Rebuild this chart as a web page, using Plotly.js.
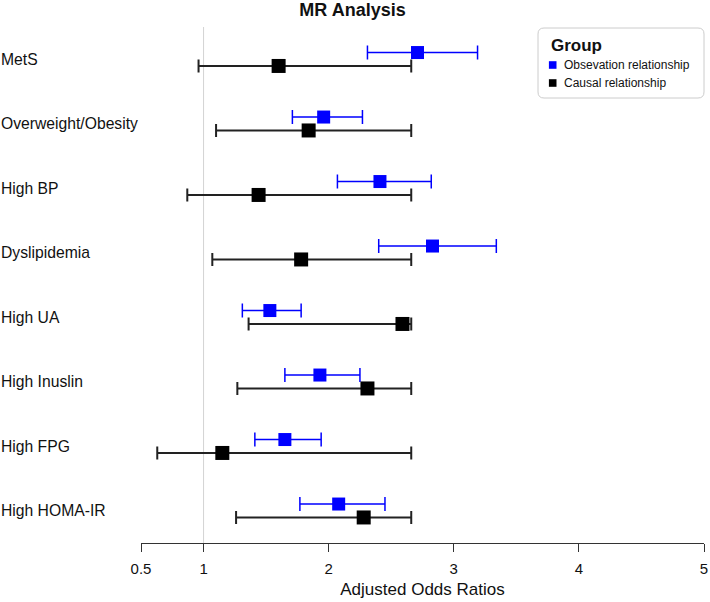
<!DOCTYPE html>
<html>
<head>
<meta charset="utf-8">
<script src="https://cdn.plot.ly/plotly-3.0.1.min.js"></script>
<style>html,body{margin:0;padding:0;background:#fff;}#chart{width:710px;height:602px;}</style>
</head>
<body>
<div id="chart"></div>
<script>
// ---- data ----
const categories = ['MetS','Overweight/Obesity','High BP','Dyslipidemia','High UA','High Inuslin','High FPG','High HOMA-IR'];
const obsOR    = [2.71, 1.96, 2.41, 2.83, 1.53, 1.93, 1.65, 2.08];
const obsLower = [2.31, 1.71, 2.07, 2.40, 1.31, 1.65, 1.41, 1.77];
const obsUpper = [3.19, 2.27, 2.82, 3.34, 1.78, 2.25, 1.94, 2.45];
const causOR    = [1.60, 1.84, 1.44, 1.78, 2.59, 2.31, 1.15, 2.28];
const causLower = [0.96, 1.10, 0.87, 1.07, 1.36, 1.27, 0.63, 1.26];
const causUpper = [2.66, 2.66, 2.66, 2.66, 2.66, 2.66, 2.66, 2.66];
const tickVals = [0.5, 1, 2, 3, 4, 5];
const tickText = ['0.5', '1', '2', '3', '4', '5'];
const seriesNames = ['Obsevation relationship', 'Causal relationship'];
const seriesColors = ['#0000FF', '#000000'];
const legendTitle = 'Group';

// ---- layout helpers ----
const W = 710, H = 602, ML = 141, MR = 6, MT = 27, MB = 59;
const PW = W - ML - MR, PH = H - MT - MB;
const n = categories.length;
const rowPos = categories.map((c, i) => n - 1 - i);
const dodge = 0.104;
const FONT = 'Liberation Sans, Arial, sans-serif';
const px2x = p => (p - ML) / PW;          // pixel -> paper x
const px2y = p => (MT + PH - p) / PH;     // pixel -> paper y

const minus = (a, b) => a.map((v, i) => v - b[i]);

const traces = [
  {
    type: 'scatter', mode: 'markers', name: seriesNames[0], showlegend: false,
    x: obsOR, y: rowPos.map(p => p + dodge),
    marker: {symbol: 'square', size: 13, color: seriesColors[0]},
    error_x: {type: 'data', symmetric: false, array: minus(obsUpper, obsOR), arrayminus: minus(obsOR, obsLower),
              color: seriesColors[0], thickness: 1.5, width: 7},
    hoverinfo: 'x'
  },
  {
    type: 'scatter', mode: 'markers', name: seriesNames[1], showlegend: false,
    x: causOR, y: rowPos.map(p => p - dodge),
    marker: {symbol: 'square', size: 14, color: seriesColors[1]},
    error_x: {type: 'data', symmetric: false, array: minus(causUpper, causOR), arrayminus: minus(causOR, causLower),
              color: '#222222', thickness: 2, width: 6.5},
    hoverinfo: 'x'
  }
];

const annotations = categories.map((c, i) => ({
  text: c, xref: 'paper', yref: 'y', x: px2x(0), xshift: -1, y: rowPos[i],
  xanchor: 'left', yanchor: 'middle', showarrow: false,
  font: {family: FONT, size: 15.7, color: '#111111'}
}));

// legend (drawn box, title, keys, labels)
const legLeft = 538, legRight = 704, legTop = 28, legBottom = 98;
const legItemY = [65, 83];
annotations.push({
  text: '<b>' + legendTitle + '</b>', xref: 'paper', yref: 'paper', x: px2x(549), y: px2y(46),
  xanchor: 'left', yanchor: 'middle', showarrow: false,
  font: {family: FONT, size: 17, color: '#111111'}
});
seriesNames.forEach((s, k) => annotations.push({
  text: s, xref: 'paper', yref: 'paper', x: px2x(562), y: px2y(legItemY[k]),
  xanchor: 'left', yanchor: 'middle', showarrow: false,
  font: {family: FONT, size: 12, color: '#111111'}
}));

const cx = px2x((legLeft + legRight) / 2), cy = px2y((legTop + legBottom) / 2);
const hw = (legRight - legLeft) / 2, hh = (legBottom - legTop) / 2, r = 6;
const boxPath = `M ${-hw + r},${-hh} L ${hw - r},${-hh} Q ${hw},${-hh} ${hw},${-hh + r} L ${hw},${hh - r} Q ${hw},${hh} ${hw - r},${hh} ` +
                `L ${-hw + r},${hh} Q ${-hw},${hh} ${-hw},${hh - r} L ${-hw},${-hh + r} Q ${-hw},${-hh} ${-hw + r},${-hh} Z`;

const shapes = [
  {type: 'line', xref: 'x', yref: 'paper', x0: 1, x1: 1, y0: 0, y1: 1,
   line: {color: '#d3d3d3', width: 1}, layer: 'below'},
  {type: 'path', xref: 'paper', yref: 'paper', xsizemode: 'pixel', ysizemode: 'pixel',
   xanchor: cx, yanchor: cy, path: boxPath,
   line: {color: '#cccccc', width: 1}, fillcolor: 'rgba(0,0,0,0)', layer: 'above'}
];
seriesColors.forEach((col, k) => shapes.push({
  type: 'rect', xref: 'paper', yref: 'paper', xsizemode: 'pixel', ysizemode: 'pixel',
  xanchor: px2x(552.7), yanchor: px2y(legItemY[k]), x0: -3.8, x1: 3.8, y0: -3.8, y1: 3.8,
  line: {width: 0}, fillcolor: col, layer: 'above'
}));

const layout = {
  width: W, height: H,
  margin: {l: ML, r: MR, t: MT, b: MB},
  paper_bgcolor: '#ffffff', plot_bgcolor: '#ffffff',
  font: {family: FONT, color: '#111111'},
  title: {text: '<b>MR Analysis</b>', x: 352.5 / W, xref: 'container', xanchor: 'center',
          y: 1 - 3 / H, yref: 'container', yanchor: 'top', pad: {t: 0, b: 0, l: 0, r: 0},
          font: {family: FONT, size: 18, color: '#111111'}},
  xaxis: {
    range: [0.5, 5], tickmode: 'array', tickvals: tickVals, ticktext: tickText,
    showgrid: false, zeroline: false, showline: true, linecolor: '#333333', linewidth: 1,
    ticks: 'outside', ticklen: 8, tickcolor: '#333333', tickwidth: 1,
    tickfont: {family: FONT, size: 15, color: '#111111'}, ticklabelstandoff: 4,
    title: {text: 'Adjusted Odds Ratios', font: {family: FONT, size: 17, color: '#111111'}, standoff: 7},
    automargin: false, fixedrange: true
  },
  yaxis: {range: [-0.5, n - 0.5], visible: false, showgrid: false, zeroline: false, fixedrange: true},
  showlegend: false,
  shapes: shapes,
  annotations: annotations
};

Plotly.newPlot('chart', traces, layout, {displayModeBar: false, staticPlot: true});
</script>
</body>
</html>
